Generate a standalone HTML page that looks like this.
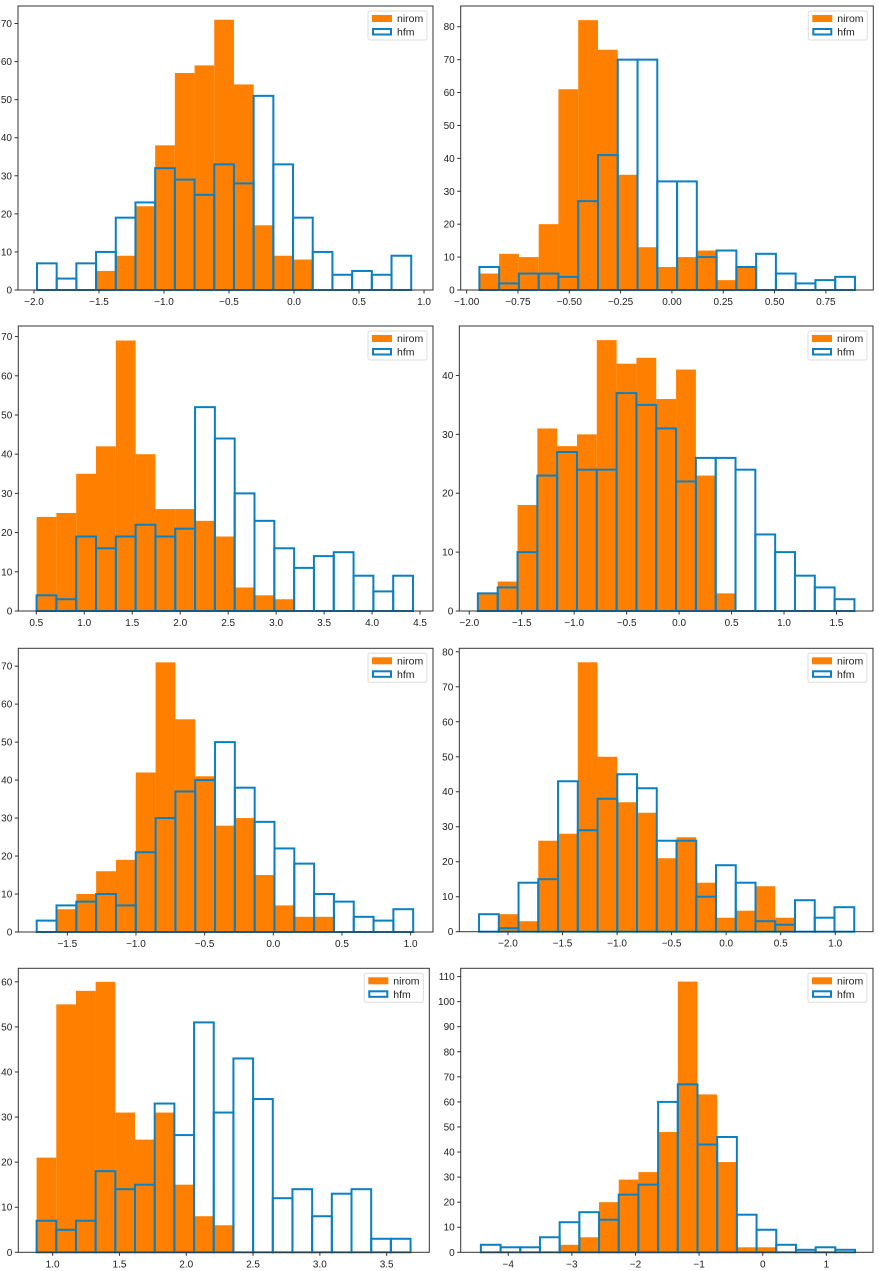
<!DOCTYPE html>
<html><head><meta charset="utf-8"><style>
html,body{margin:0;padding:0;background:#fff}
svg{display:block;font-family:"Liberation Sans","DejaVu Sans",sans-serif}
</style></head><body>
<svg id="fig" width="879" height="1271" viewBox="0 0 879 1271" xmlns="http://www.w3.org/2000/svg"></svg>
<script>
// ---- data ----
const p1Nirom=[5,9,22,38,57,59,71,54,17,9,8];
const p1Hfm=[7,3,7,10,19,23,32,29,25,33,28,51,33,19,10,4,5,4,9];
const p1Bins=[-1.977,0.1515];
const p1XTicks=[-2.0,-1.5,-1.0,-0.5,0.0,0.5,1.0];
const p2Nirom=[5,11,10,20,61,82,73,35,13,7,10,12,3,7];
const p2Hfm=[7,2,5,5,4,27,41,70,70,33,33,10,12,7,11,5,2,3,4];
const p2Bins=[-0.938,0.0963];
const p2XTicks=[-1.00,-0.75,-0.50,-0.25,0.00,0.25,0.50,0.75];
const p3Nirom=[24,25,35,42,69,40,26,26,23,19,6,4,3];
const p3Hfm=[4,3,19,16,19,22,19,21,52,44,30,23,16,11,14,15,9,5,9];
const p3Bins=[0.503,0.2065];
const p3XTicks=[0.5,1.0,1.5,2.0,2.5,3.0,3.5,4.0,4.5];
const p4Nirom=[3,5,18,31,28,30,46,42,43,36,41,23,3];
const p4Hfm=[3,4,10,23,27,24,24,37,35,31,22,26,26,24,13,10,6,4,2];
const p4Bins=[-1.918,0.1889];
const p4XTicks=[-2.0,-1.5,-1.0,-0.5,0.0,0.5,1.0,1.5];
const p5Nirom=[6,10,16,19,42,71,56,41,28,30,15,7,4,4];
const p5Hfm=[3,7,8,10,7,21,30,37,40,50,38,29,22,18,10,8,4,3,6];
const p5Bins=[-1.723,0.1443];
const p5XTicks=[-1.5,-1.0,-0.5,0.0,0.5,1.0];
const p6Nirom=[5,3,26,28,77,50,37,34,21,27,14,4,6,13,4];
const p6Hfm=[5,1,14,15,43,29,38,45,41,26,26,10,19,14,3,2,9,4,7];
const p6Bins=[-2.265,0.181];
const p6XTicks=[-2.0,-1.5,-1.0,-0.5,0.0,0.5,1.0];
const p7Nirom=[21,55,58,60,31,25,31,15,8,6];
const p7Hfm=[7,5,7,18,14,15,33,26,51,31,43,34,12,14,8,13,14,3,3];
const p7Bins=[0.880,0.1473];
const p7XTicks=[1.0,1.5,2.0,2.5,3.0,3.5];
const p8Nirom=[3,6,20,29,32,48,108,63,36,2,2];
const p8Hfm=[3,2,2,6,12,16,13,23,27,60,67,43,46,15,9,3,1,2,1];
const p8Bins=[-4.43,0.3095];
const p8XTicks=[-4,-3,-2,-1,0,1];

// ---- layout ----
const panels=[
 {n:p1Nirom,h:p1Hfm,b:p1Bins,nOff:3,xt:p1XTicks,dec:1,box:[18,6,433,290],xl:[-2.123,1.069],ymax:74.6,ystep:10},
 {n:p2Nirom,h:p2Hfm,b:p2Bins,nOff:0,xt:p2XTicks,dec:2,box:[460.7,6,873.3,290],xl:[-1.029,0.981],ymax:86.3,ystep:10},
 {n:p3Nirom,h:p3Hfm,b:p3Bins,nOff:0,xt:p3XTicks,dec:1,box:[18.3,326,433,611],xl:[0.3125,4.635],ymax:72.7,ystep:10},
 {n:p4Nirom,h:p4Hfm,b:p4Bins,nOff:0,xt:p4XTicks,dec:1,box:[459.3,326,873,611],xl:[-2.095,1.848],ymax:48.4,ystep:10},
 {n:p5Nirom,h:p5Hfm,b:p5Bins,nOff:1,xt:p5XTicks,dec:1,box:[18.3,648.3,433,932],xl:[-1.857,1.163],ymax:74.7,ystep:10},
 {n:p6Nirom,h:p6Hfm,b:p6Bins,nOff:1,xt:p6XTicks,dec:1,box:[459.3,648.3,873,931.7],xl:[-2.446,1.346],ymax:81,ystep:10},
 {n:p7Nirom,h:p7Hfm,b:p7Bins,nOff:0,xt:p7XTicks,dec:1,box:[18.3,968.3,429.3,1252.3],xl:[0.743,3.819],ymax:63,ystep:10},
 {n:p8Nirom,h:p8Hfm,b:p8Bins,nOff:4,xt:p8XTicks,dec:0,box:[460.7,968.3,873,1252.3],xl:[-4.747,1.733],ymax:113.3,ystep:10}
];
const NS='http://www.w3.org/2000/svg';
const fig=document.getElementById('fig');
function mk(tag,attrs,parent){const e=document.createElementNS(NS,tag);for(const k in attrs)e.setAttribute(k,attrs[k]);(parent||fig).appendChild(e);return e;}
function fmt(v,d){let s=v.toFixed(d);if(v<0)s='\u2212'+s.slice(1);return s;}
panels.forEach((p,i)=>{
  const [L,T,R,B]=p.box;
  const g=mk('g',{});
  
  
  const X=v=>L+(v-p.xl[0])/(p.xl[1]-p.xl[0])*(R-L);
  const Y=v=>B-v/p.ymax*(B-T);
  p.n.forEach((c,k)=>{
    const x0=X(p.b[0]+(k+p.nOff)*p.b[1]),x1=X(p.b[0]+(k+p.nOff+1)*p.b[1]);
    const r=mk('rect',{x:x0,y:Y(c),width:x1-x0,height:B-Y(c),fill:'#ff8000'},g);
    
    
  });
  p.h.forEach((c,k)=>{
    const x0=X(p.b[0]+k*p.b[1]),x1=X(p.b[0]+(k+1)*p.b[1]);
    const r=mk('rect',{x:x0,y:Y(c),width:x1-x0,height:B-Y(c),fill:'none',stroke:'#0a7fc2','stroke-width':2},g);
    
    
  });
  const fr=mk('rect',{x:L,y:T,width:R-L,height:B-T,fill:'none',stroke:'#333','stroke-width':1},g);
  
  
  p.xt.forEach(v=>{
    const x=X(v);
    mk('line',{x1:x,x2:x,y1:B,y2:B+3.5,stroke:'#333','stroke-width':1},g);
    const t=mk('text',{x:x,y:B+15,'font-size':10,'text-anchor':'middle',fill:'#222'},g);
    t.textContent=fmt(v,p.dec);
    
    
  });
  for(let v=0;v<=p.ymax;v+=p.ystep){
    const y=Y(v);
    mk('line',{x1:L-3.5,x2:L,y1:y,y2:y,stroke:'#333','stroke-width':1},g);
    const t=mk('text',{x:L-6,y:y+3.5,'font-size':10,'text-anchor':'end',fill:'#222'},g);
    t.textContent=String(v);
    
    
  }
  const lg=mk('g',{},g);
  
  
  const lx=R-65,ly=T+5;
  mk('rect',{x:lx,y:ly,width:59,height:29,rx:2,fill:'#fff','fill-opacity':0.85,stroke:'#ddd','stroke-width':1},lg);
  mk('rect',{x:lx+4,y:ly+4,width:20,height:7,fill:'#ff8000'},lg);
  const t1=mk('text',{x:lx+29,y:ly+11,'font-size':10.5,fill:'#222'},lg);
  t1.textContent='nirom';
  
  
  mk('rect',{x:lx+5,y:ly+18,width:18,height:5.5,fill:'none',stroke:'#0a7fc2','stroke-width':2},lg);
  const t2=mk('text',{x:lx+29,y:ly+24.5,'font-size':10.5,fill:'#222'},lg);
  t2.textContent='hfm';
  
  
});
</script>
</body></html>
